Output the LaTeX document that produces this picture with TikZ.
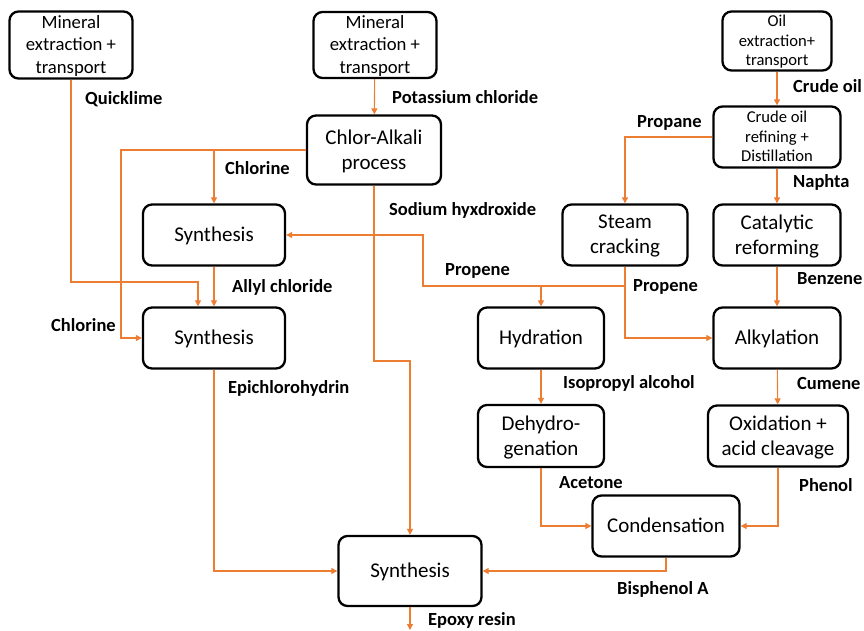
\documentclass[tikz,border=0pt]{standalone}
\usepackage{fontspec}
\setmainfont{Carlito}
\usetikzlibrary{arrows.meta}
\definecolor{flowc}{RGB}{237,125,49}
\begin{document}
\begin{tikzpicture}[x=1pt,y=-1pt,
  box/.style={draw=black,line width=2.3pt,rounded corners=9pt,fill=white,
    align=center,inner sep=0pt,text depth=1.5pt,font=\fontsize{21}{25}\selectfont},
  smallbox/.style={box,font=\fontsize{18.7}{22.5}\selectfont},
  tinybox/.style={box,font=\fontsize{16.6}{19.8}\selectfont},
  flow/.style={draw=flowc,line width=1.1pt,-{Triangle[length=6pt,width=6pt]}},
  link/.style={draw=flowc,line width=1.1pt},
  lbl/.style={anchor=west,inner sep=0pt,font=\fontsize{18.5}{22}\selectfont\bfseries}]
\useasboundingbox (0,0) rectangle (864,630);

% process boxes
\node[smallbox,minimum width=123pt,minimum height=67pt] (min1) at (71,45) {Mineral\\extraction +\\transport};
\node[smallbox,minimum width=123pt,minimum height=66pt] (min2) at (375,45) {Mineral\\extraction +\\transport};
\node[box,minimum width=134pt,minimum height=69pt] (chlor) at (374,150) {Chlor-Alkali\\process};
\node[tinybox,minimum width=109pt,minimum height=59pt] (oil) at (777,41) {Oil\\extraction+\\transport};
\node[tinybox,minimum width=127pt,minimum height=61pt] (crude) at (777,137) {Crude oil\\refining +\\Distillation};
\node[box,minimum width=125pt,minimum height=61pt] (steam) at (625,235) {Steam\\cracking};
\node[box,minimum width=127pt,minimum height=61pt] (cat) at (777,235) {Catalytic\\reforming};
\node[box,minimum width=142pt,minimum height=61pt] (syn1) at (214,235) {Synthesis};
\node[box,minimum width=142pt,minimum height=61pt] (syn2) at (214,338) {Synthesis};
\node[box,minimum width=126pt,minimum height=61pt] (hyd) at (541,338) {Hydration};
\node[box,minimum width=127pt,minimum height=61pt] (alk) at (777,338) {Alkylation};
\node[box,minimum width=126pt,minimum height=62pt] (dehyd) at (541,436) {Dehydro-\\genation};
\node[box,minimum width=140pt,minimum height=61pt] (oxid) at (778,436) {Oxidation +\\acid cleavage};
\node[box,minimum width=147pt,minimum height=61pt] (cond) at (666,526) {Condensation};
\node[box,minimum width=143pt,minimum height=70pt] (final) at (410,571) {Synthesis};

% bend points
\coordinate (qk) at (198,282);
\coordinate (clL) at (121,150);
\coordinate (naB) at (374,361);
\coordinate (pj) at (625,286);
\coordinate (pL) at (423,286);
\coordinate (out) at (410,630);

% connectors
\draw[flow] (min1.south) |- (qk) -- (qk |- syn2.north);
\draw[flow] (min2) -- (chlor);
\draw[flow] (chlor.west) -- (clL) |- (syn2.west);
\draw[flow] (chlor.west -| syn1.north) -- (syn1.north);
\draw[flow] (chlor.south) -- (naB) -| (final.north);
\draw[flow] (syn1) -- (syn2);
\draw[flow] (oil) -- (crude);
\draw[flow] (crude.west) -| (steam.north);
\draw[flow] (crude) -- (cat);
\draw[flow] (cat) -- (alk);
\draw[flow] (steam.south) -- (pj) -- (pL) |- (syn1.east);
\draw[flow] (pj -| hyd.north) -- (hyd.north);
\draw[flow] (pj) |- (alk.west);
\draw[flow] (hyd) -- (dehyd);
\draw[flow] (alk) -- (oxid);
\draw[flow] (dehyd.south) |- (cond.west);
\draw[flow] (oxid.south) |- (cond.east);
\draw[flow] (cond.south) |- (final.east);
\draw[flow] (syn2.south) |- (final.west);
\draw[flow] (final.south) -- (out);

% stream labels
\node[lbl] (lq) at (85,99) {Quicklime};
\node[lbl] (lk) at (392,97) {Potassium chloride};
\node[lbl] (lc1) at (225,168) {Chlorine};
\node[lbl] (ls) at (389,210) {Sodium hyxdroxide};
\node[lbl] (lco) at (793,86) {Crude oil};
\node[lbl] (lpa) at (637,123) {Propane};
\node[lbl] (lna) at (793,182) {Naphta};
\node[lbl] (lpe1) at (445,271) {Propene};
\node[lbl] (lpe2) at (633,287) {Propene};
\node[lbl] (lbz) at (797,279) {Benzene};
\node[lbl] (lal) at (232,287) {Allyl chloride};
\node[lbl] (lc2) at (51,325) {Chlorine};
\node[lbl] (lep) at (228,388) {Epichlorohydrin};
\node[lbl] (lip) at (563,383) {Isopropyl alcohol};
\node[lbl] (lcu) at (797,383) {Cumene};
\node[lbl] (lac) at (559,483) {Acetone};
\node[lbl] (lph) at (799,485) {Phenol};
\node[lbl] (lbp) at (617,589) {Bisphenol A};
\node[lbl] (ler) at (428,620) {Epoxy resin};
\end{tikzpicture}
\end{document}
